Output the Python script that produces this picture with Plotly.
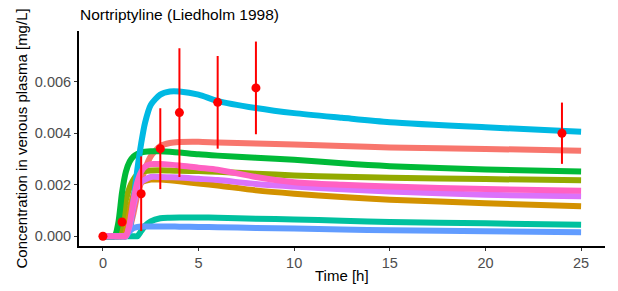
import plotly.graph_objects as go

T = [0, 0.6, 0.8, 1.0, 1.2, 1.4, 1.6, 1.8, 2.0, 2.2, 2.5, 3, 3.5, 4, 5, 6, 8, 10, 12.5, 15, 20, 25]

salmon = [0, 0, 0, 0, 0, 0.0003, 0.0009, 0.0016, 0.0021, 0.0026, 0.0031, 0.0035, 0.00362, 0.00366, 0.00367, 0.00364, 0.0036, 0.00356, 0.0035, 0.00345, 0.00339, 0.00332]
gold = [0, 0, 0, 0, 0.0004, 0.0011, 0.0016, 0.0019, 0.0021, 0.00215, 0.0022, 0.0022, 0.00217, 0.00213, 0.00205, 0.00197, 0.00178, 0.00165, 0.00152, 0.00142, 0.00128, 0.00116]
olive = [0, 0, 0, 0.0006, 0.0014, 0.0019, 0.0022, 0.0024, 0.0025, 0.00253, 0.00255, 0.00256, 0.00255, 0.00254, 0.00253, 0.0025, 0.00243, 0.00236, 0.00231, 0.00227, 0.00222, 0.00217]
green = [0, 0, 0.0005, 0.0017, 0.0025, 0.0029, 0.0031, 0.0032, 0.00325, 0.00328, 0.0033, 0.0033, 0.00328, 0.00325, 0.00318, 0.00313, 0.00305, 0.00297, 0.00283, 0.00272, 0.00259, 0.00251]
teal = [0, 0, 0, 0, 0, 0, 0, 0, 0.0002, 0.0004, 0.00058, 0.0007, 0.00072, 0.00073, 0.00073, 0.00072, 0.00068, 0.00065, 0.0006, 0.00055, 0.0005, 0.00045]
cyan = [0, 0, 0, 0, 0, 0.0003, 0.0014, 0.0026, 0.0036, 0.0044, 0.0051, 0.0055, 0.00562, 0.00562, 0.0055, 0.00525, 0.00498, 0.00478, 0.0046, 0.00443, 0.00423, 0.00406]
blue = [0, 0, 0, 0, 0, 0.0002, 0.00032, 0.00036, 0.00038, 0.00038, 0.00038, 0.00038, 0.00038, 0.00037, 0.00036, 0.00035, 0.00032, 0.0003, 0.00026, 0.00023, 0.00019, 0.000155]
purple = [0, 0, 0, 0, 0, 0.0004, 0.0012, 0.0018, 0.0021, 0.0022, 0.0023, 0.0023, 0.00229, 0.00228, 0.00223, 0.00218, 0.00203, 0.00193, 0.00182, 0.00174, 0.00161, 0.00155]
pink = [0, 0, 0, 0, 0, 0.0005, 0.0014, 0.0021, 0.0025, 0.0027, 0.0028, 0.0028, 0.00278, 0.00275, 0.00266, 0.00258, 0.0023, 0.0021, 0.002, 0.00193, 0.00183, 0.00177]

series = [salmon, gold, olive, green, teal, cyan, blue, purple, pink]
colors = ["#F8766D", "#D39200", "#93AA00", "#00BA38", "#00C19F", "#00B9E3", "#619CFF", "#DB72FB", "#FF61C3"]

obs_t = [0, 1, 2, 3, 4, 6, 8, 24]
obs_c = [0, 0.00055, 0.00165, 0.0034, 0.0048, 0.0052, 0.00576, 0.0040]
obs_err = [0, 0, 0.00145, 0.00157, 0.0025, 0.0018, 0.0018, 0.00119]

x_ticks = [0, 5, 10, 15, 20, 25]
y_ticks = [0, 0.002, 0.004, 0.006]
y_ticklabels = ["0.000", "0.002", "0.004", "0.006"]

fig = go.Figure()
for vals, col in zip(series, colors):
    fig.add_trace(go.Scatter(x=T, y=vals, mode="lines",
                             line=dict(color=col, width=6, shape="spline", smoothing=0.7),
                             showlegend=False, hoverinfo="skip"))

fig.add_trace(go.Scatter(x=obs_t, y=obs_c, mode="markers",
                         marker=dict(color="#FF0000", size=9),
                         error_y=dict(type="data", array=obs_err, color="#FF0000", thickness=2, width=0),
                         showlegend=False))

font = "Liberation Sans, Arial, sans-serif"
L, R, TOP, B = 79, 13, 31, 45
W, H = 618, 291
pw, ph = W - L - R, H - TOP - B

fig.update_layout(
    width=W, height=H,
    margin=dict(l=L, r=R, t=TOP, b=B),
    paper_bgcolor="white", plot_bgcolor="white",
    font=dict(family=font, size=14.5, color="black"),
    title=dict(text="Nortriptyline (Liedholm 1998)", x=80/W, xanchor="left", xref="container",
               y=1 - 15/H, yanchor="middle", yref="container",
               font=dict(size=15.5, color="black", family=font)),
    xaxis=dict(range=[-1.25, 26.25], tickvals=x_ticks, showgrid=False, zeroline=False,
               showline=True, linecolor="black", linewidth=2, ticks="outside", ticklen=3,
               tickcolor="#333333", tickfont=dict(size=14.5, color="#4D4D4D"), automargin=False),
    yaxis=dict(range=[-0.00038, 0.00797], tickvals=y_ticks, ticktext=y_ticklabels, showgrid=False,
               zeroline=False, showline=True, linecolor="black", linewidth=2, ticks="outside",
               ticklen=3, tickcolor="#333333", tickfont=dict(size=14.5, color="#4D4D4D"), automargin=False),
    annotations=[
        dict(text="Time [h]", xref="paper", yref="paper", x=0.5, y=(TOP + ph - 275) / ph,
             xanchor="center", yanchor="middle", showarrow=False, font=dict(size=15, color="black")),
        dict(text="Concentration in venous plasma [mg/L]", xref="paper", yref="paper",
             x=(21 - L) / pw, y=(TOP + ph - 138.5) / ph, textangle=-90,
             xanchor="center", yanchor="middle", showarrow=False, font=dict(size=15, color="black")),
    ],
)

fig.write_html("out.html", config={"displayModeBar": False},
               post_script="document.body.style.margin='0px';document.body.style.overflow='hidden';")
